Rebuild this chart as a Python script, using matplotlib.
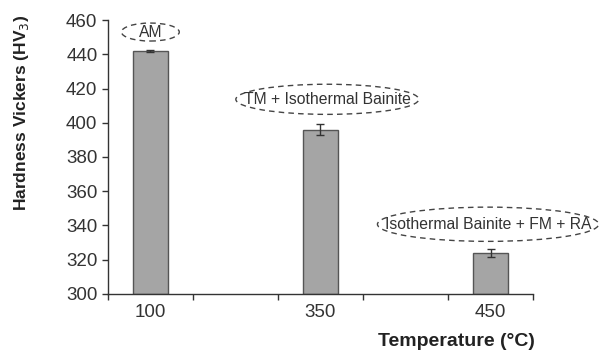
import matplotlib
matplotlib.use("Agg")
import matplotlib.pyplot as plt
from matplotlib.patches import Ellipse

plt.rcParams['font.family'] = ['Liberation Sans', 'DejaVu Sans']

categories = ["100", "", "350", "", "450"]
values = [442, None, 396, None, 324]
errors = [0.5, None, 3.0, None, 2.5]
labels = ["AM", "TM + Isothermal Bainite", "Isothermal Bainite + FM + RA"]
label_pos = [(0, 453), (2.08, 413.7), (3.97, 340.7)]
label_size = [(0.68, 10.5), (2.15, 17.6), (2.6, 20.0)]
yticks = [300, 320, 340, 360, 380, 400, 420, 440, 460]

fig = plt.figure(figsize=(5.99, 3.52), dpi=100)
ax = fig.add_axes([0.180, 0.165, 0.710, 0.778])

xs = [i for i, v in enumerate(values) if v is not None]
vs = [values[i] for i in xs]
es = [errors[i] for i in xs]
ax.bar(xs, [v - 300 for v in vs], bottom=300, width=0.41, color='#a5a5a5',
       edgecolor='#555555', linewidth=1.0, zorder=2)
ax.errorbar(xs, vs, yerr=es, fmt='none', ecolor='#333333', elinewidth=1.0,
            capsize=3, capthick=1.0, zorder=3)

ax.set_xlim(-0.5, 4.5)
ax.set_ylim(300, 460)
ax.set_yticks(yticks)
ax.set_xticks([-0.5, 0.5, 1.5, 2.5, 3.5, 4.5])
ax.set_xticklabels([])
ax.set_xticks(range(5), minor=True)
ax.set_xticklabels(categories, minor=True)
ax.tick_params(axis='x', which='minor', length=0, pad=7, labelsize=13.5, labelcolor='#333333')
ax.tick_params(axis='x', which='major', direction='out', length=4, width=1, color='#333333')
ax.tick_params(axis='y', direction='out', length=4, width=1, labelsize=13.5,
               labelcolor='#333333', color='#333333')
for s in ['top', 'right']:
    ax.spines[s].set_visible(False)
for s in ['left', 'bottom']:
    ax.spines[s].set_color('#333333')
    ax.spines[s].set_linewidth(1.0)

fig.text(22 / 599, 1 - 113 / 352, "Hardness Vickers (HV$_3$)", rotation=90,
         ha='center', va='center', fontsize=12.5, fontweight='bold', color='#222222')
fig.text(0.893, 1 - 342 / 352, "Temperature (°C)", ha='right', va='center', fontsize=14,
         fontweight='bold', color='#222222')

for lab, (cx, cy), (w, h) in zip(labels, label_pos, label_size):
    e = Ellipse((cx, cy), w, h, fill=False, edgecolor='#444444', linestyle=(0, (4, 3)),
                linewidth=1.0, clip_on=False, zorder=4)
    ax.add_patch(e)
    ax.text(cx, cy, lab, ha='center', va='center', fontsize=11.3, color='#333333', zorder=5)

fig.savefig("out.png", dpi=100)
